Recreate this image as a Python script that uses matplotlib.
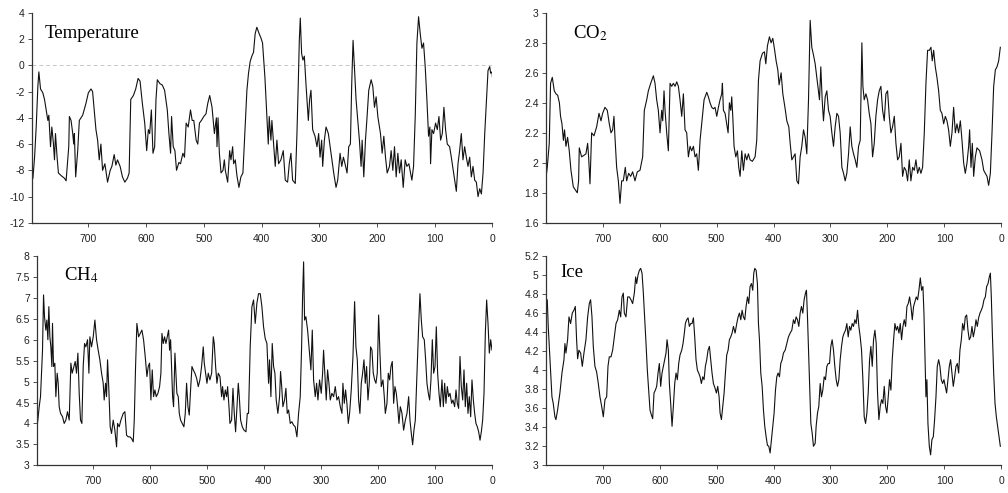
import matplotlib
matplotlib.use('Agg')
import matplotlib.pyplot as plt
from matplotlib.ticker import FuncFormatter

plt.rcParams['font.family'] = ['Liberation Sans', 'DejaVu Sans']
plt.rcParams['axes.unicode_minus'] = False
plt.rcParams['mathtext.fontset'] = 'stix'

# ages in kyr before present
temp_age = [796.0, 793.1, 790.3, 787.4, 785.7, 782.8, 778.8, 775.9, 773.0, 770.1, 768.4, 765.5, 763.2,
            760.4, 758.6, 756.9, 754.1, 751.8, 747.2, 741.4, 738.5, 733.9, 732.8, 729.9, 727.0, 725.3,
            724.2, 721.9, 718.4, 715.6, 709.8, 704.1, 700.0, 695.4, 692.6, 686.8, 683.9, 681.1, 678.2,
            675.3, 671.3, 666.7, 662.1, 659.2, 655.2, 652.3, 649.5, 644.9, 640.9, 636.8, 632.2, 629.3,
            626.5, 621.9, 617.9, 613.8, 610.4, 606.4, 602.3, 598.9, 596.0, 593.7, 590.8, 588.0, 585.1,
            582.8, 580.5, 575.9, 571.9, 567.9, 563.2, 560.4, 557.5, 555.8, 552.9, 550.0, 547.2, 543.1,
            540.3, 536.2, 533.4, 530.5, 527.0, 523.0, 520.1, 517.3, 513.2, 510.4, 507.5, 504.1, 500.0,
            496.2, 493.1, 489.7, 485.7, 481.6, 478.2, 477.1, 475.3, 473.0, 470.1, 466.7, 464.4, 462.7,
            458.6, 455.2, 452.9, 450.0, 448.3, 445.4, 442.6, 439.1, 435.7, 432.2, 429.4, 425.3, 422.5,
            419.6, 416.7, 413.8, 411.0, 408.1, 404.0, 401.1, 398.2, 394.1, 390.7, 388.3, 386.6, 383.7,
            382.0, 379.1, 376.2, 373.3, 370.4, 366.4, 362.3, 358.8, 354.8, 351.9, 349.0, 346.1, 341.5,
            338.6, 336.3, 334.5, 332.8, 330.5, 328.2, 325.8, 323.0, 318.9, 316.6, 314.3, 311.4, 307.3,
            303.9, 301.0, 298.6, 295.8, 294.0, 291.1, 288.2, 284.2, 279.6, 274.9, 270.9, 268.0, 263.9,
            261.0, 258.1, 255.3, 251.8, 248.9, 246.0, 243.7, 241.4, 239.1, 236.2, 233.3, 230.4, 227.5,
            225.7, 222.8, 219.9, 217.1, 214.2, 210.1, 207.2, 204.3, 201.4, 198.5, 193.9, 191.0, 188.1,
            185.2, 182.3, 178.3, 175.4, 172.5, 169.6, 166.7, 163.8, 160.9, 158.0, 154.5, 151.1, 148.2,
            144.7, 141.8, 139.5, 136.6, 133.7, 130.8, 127.9, 125.0, 122.1, 119.3, 116.4, 113.5, 110.6,
            108.3, 107.1, 104.8, 101.9, 98.4, 95.5, 92.6, 89.7, 86.8, 84.0, 81.1, 78.2, 74.1, 71.2,
            67.2, 62.5, 59.6, 56.8, 53.9, 51.0, 48.1, 45.2, 42.3, 39.4, 36.5, 33.6, 30.7, 27.8, 24.9,
            22.0, 19.1, 16.2, 13.3, 10.5, 7.6, 4.7, 3.0, 0.6, 0.0]
temp_val = [-8.6, -7.0, -4.7, -1.6, -0.5, -1.8, -2.1, -2.6, -3.4, -4.2, -3.8, -6.2, -4.7,
            -6.0, -7.2, -5.2, -7.0, -8.2, -8.4, -8.6, -8.8, -6.2, -3.9, -4.2, -5.2, -6.0,
            -5.2, -8.5, -6.5, -4.2, -3.8, -2.9, -2.1, -1.8, -2.0, -4.9, -5.7, -7.2, -6.0,
            -8.0, -7.5, -8.9, -8.0, -7.7, -6.8, -7.6, -7.2, -7.7, -8.5, -8.9, -8.6, -8.2,
            -2.6, -2.3, -1.8, -1.0, -1.2, -2.9, -4.4, -6.5, -4.9, -5.2, -3.4, -6.7, -6.2,
            -2.6, -1.1, -1.4, -1.5, -1.9, -3.4, -5.2, -6.7, -3.9, -6.2, -6.5, -8.0, -7.4,
            -7.5, -6.7, -7.0, -4.4, -4.7, -3.4, -4.2, -4.2, -5.7, -6.0, -4.4, -4.2, -3.9,
            -3.7, -2.9, -2.3, -3.2, -5.2, -4.0, -6.2, -4.0, -6.7, -8.2, -8.0, -7.2, -8.0,
            -8.9, -6.5, -7.2, -6.2, -7.5, -7.2, -8.4, -9.3, -8.5, -8.2, -5.7, -1.9, -0.6,
            0.3, 0.7, 1.0, 2.4, 2.9, 2.4, 2.1, 1.7, -0.9, -3.9, -6.0, -3.9, -5.7,
            -4.2, -6.0, -7.7, -5.7, -7.5, -7.2, -6.5, -8.75, -8.9, -7.5, -6.7, -8.75, -9.0,
            -5.2, -1.4, 1.9, 3.6, 0.9, 0.4, 0.7, -1.4, -4.2, -2.6, -1.9, -4.9, -5.4,
            -6.2, -5.2, -7.0, -5.7, -7.7, -5.7, -4.7, -5.2, -6.7, -8.2, -9.3, -8.75, -6.7,
            -7.7, -7.0, -7.5, -8.2, -6.2, -6.0, -1.4, 1.9, -0.1, -2.6, -4.2, -5.7, -7.7,
            -5.7, -8.5, -5.7, -3.9, -1.9, -1.1, -1.6, -3.2, -2.4, -3.9, -5.2, -6.7, -5.4,
            -7.0, -8.2, -7.7, -6.5, -8.0, -6.2, -8.5, -6.7, -8.2, -7.2, -9.3, -7.2, -7.7,
            -7.5, -8.2, -8.75, -7.7, -3.9, 1.7, 3.7, 2.4, 1.3, 1.7, -0.1, -2.6, -5.4,
            -4.7, -7.5, -4.9, -5.2, -4.4, -4.9, -3.9, -5.7, -5.2, -3.2, -4.9, -6.0, -6.2, -7.0,
            -8.2, -9.6, -7.5, -6.5, -5.2, -7.2, -6.2, -7.0, -7.7, -7.0, -8.5, -7.7, -8.75, -8.9, -10.0,
            -9.4, -9.8, -8.2, -5.2, -2.9, -0.4, -0.1, -0.6, -0.5, -0.9]

co2_age = [800.2, 797.3, 793.8, 791.5, 788.5, 785.0, 782.0, 779.0, 776.0, 774.0, 771.5, 769.0, 767.0,
           764.5, 761.6, 758.7, 755.7, 751.6, 748.1, 744.6, 742.3, 741.1, 737.0, 732.9, 729.4, 726.4,
           724.7, 722.3, 719.4, 715.3, 710.6, 706.5, 703.0, 700.1, 696.0, 691.9, 688.4, 685.4, 682.5,
           680.2, 678.4, 675.5, 672.5, 669.6, 666.7, 663.8, 660.3, 657.9, 654.4, 650.9, 647.4, 643.3,
           639.2, 634.5, 629.8, 626.9, 622.7, 619.8, 615.7, 611.0, 608.1, 605.2, 602.3, 599.3, 596.4,
           594.6, 592.3, 590.5, 587.6, 584.7, 581.7, 578.8, 575.9, 572.9, 570.0, 567.1, 564.2, 561.2,
           558.3, 555.4, 552.5, 549.5, 546.6, 543.7, 540.7, 537.8, 534.9, 532.0, 529.0, 526.1, 522.0,
           517.3, 514.4, 511.5, 508.5, 505.6, 502.7, 499.7, 496.8, 493.9, 491.0, 489.8, 488.0, 485.1,
           482.2, 479.8, 477.5, 475.1, 473.4, 471.6, 469.3, 466.3, 463.4, 461.1, 458.7, 455.8, 452.9,
           449.9, 447.0, 444.1, 441.2, 437.1, 432.4, 429.5, 426.5, 423.6, 419.5, 416.0, 413.6, 410.7,
           407.2, 404.3, 401.3, 398.4, 395.5, 392.5, 390.2, 386.7, 383.7, 379.6, 376.7, 373.2, 370.8,
           367.9, 365.0, 362.1, 359.1, 356.2, 353.3, 350.4, 347.4, 344.5, 341.6, 338.6, 335.7, 332.8,
           329.9, 326.9, 324.0, 321.1, 319.3, 317.0, 314.6, 312.3, 309.3, 306.4, 303.5, 300.6, 297.6,
           294.7, 291.8, 288.8, 285.9, 283.0, 280.0, 277.1, 274.2, 271.3, 268.3, 265.4, 262.5, 259.5,
           256.6, 253.7, 250.7, 247.8, 244.9, 243.1, 240.8, 237.8, 234.9, 232.0, 229.0, 226.1, 223.2,
           220.3, 217.3, 214.4, 211.5, 208.5, 205.6, 202.7, 199.8, 196.8, 193.9, 191.0, 188.0, 185.1,
           182.2, 179.3, 176.3, 173.4, 170.5, 167.5, 164.6, 161.7, 158.8, 155.8, 152.9, 150.0, 147.0,
           144.1, 141.2, 138.3, 135.3, 132.4, 129.5, 126.5, 123.6, 121.3, 118.9, 116.0, 113.1, 110.1,
           107.2, 104.3, 101.3, 98.4, 95.5, 92.6, 89.6, 86.7, 83.8, 80.8, 77.9, 75.0, 72.0, 69.1,
           66.2, 63.3, 60.3, 57.4, 55.7, 53.3, 51.0, 48.6, 45.7, 42.8, 38.1, 34.0, 31.0, 28.1, 25.2,
           22.3, 19.3, 16.4, 13.5, 10.5, 7.6, 4.7, 1.8]
co2_val = [1.88, 1.97, 2.13, 2.53, 2.57, 2.48, 2.46, 2.45, 2.40, 2.31, 2.26, 2.15, 2.22,
           2.11, 2.17, 2.08, 1.95, 1.84, 1.82, 1.80, 1.88, 2.10, 2.04, 2.05, 2.06, 2.13,
           2.04, 1.86, 2.20, 2.18, 2.24, 2.33, 2.28, 2.33, 2.37, 2.35, 2.26, 2.20, 2.22,
           2.31, 2.17, 1.97, 1.88, 1.73, 1.88, 1.88, 1.97, 1.88, 1.93, 1.91, 1.94, 1.88,
           1.94, 1.95, 2.04, 2.35, 2.42, 2.48, 2.53, 2.58, 2.53, 2.42, 2.35, 2.20, 2.35,
           2.28, 2.48, 2.35, 2.20, 2.08, 2.53, 2.51, 2.53, 2.51, 2.54, 2.51, 2.42, 2.31,
           2.46, 2.22, 2.20, 2.04, 2.11, 2.08, 2.11, 2.04, 2.06, 1.95, 2.15, 2.26, 2.42,
           2.47, 2.44, 2.40, 2.37, 2.36, 2.37, 2.31, 2.37, 2.42, 2.46, 2.53, 2.35, 2.33,
           2.26, 2.20, 2.40, 2.35, 2.44, 2.31, 2.11, 2.04, 2.08, 1.97, 1.91, 2.08, 1.95,
           2.06, 2.02, 2.06, 2.02, 2.01, 2.04, 2.15, 2.55, 2.68, 2.73, 2.74, 2.66, 2.78,
           2.84, 2.80, 2.83, 2.76, 2.68, 2.62, 2.52, 2.60, 2.46, 2.36, 2.28, 2.24, 2.13,
           2.02, 2.04, 2.06, 1.88, 1.86, 2.04, 2.11, 2.22, 2.17, 2.06, 2.42, 2.95, 2.77,
           2.72, 2.66, 2.57, 2.48, 2.42, 2.64, 2.42, 2.28, 2.44, 2.48, 2.35, 2.31, 2.20,
           2.11, 2.24, 2.33, 2.31, 2.20, 1.97, 1.93, 1.88, 1.93, 2.06, 2.24, 2.11, 2.06,
           2.02, 1.97, 2.11, 2.15, 2.80, 2.51, 2.42, 2.46, 2.42, 2.33, 2.26, 2.04, 2.13,
           2.31, 2.42, 2.48, 2.51, 2.35, 2.28, 2.46, 2.48, 2.31, 2.20, 2.24, 2.31, 2.13,
           2.02, 2.04, 2.13, 1.91, 1.97, 1.95, 1.88, 2.02, 1.88, 1.97, 1.95, 2.02, 1.93,
           1.97, 1.93, 1.97, 2.20, 2.53, 2.75, 2.75, 2.77, 2.68, 2.75, 2.64, 2.57, 2.48,
           2.35, 2.33, 2.26, 2.31, 2.28, 2.22, 2.11, 2.20, 2.37, 2.20, 2.26, 2.20, 2.28, 2.15,
           2.00, 1.93, 2.00, 2.11, 2.22, 1.97, 2.13, 1.91, 2.04, 2.10, 2.08, 2.02, 1.95, 1.93, 1.91,
           1.85, 1.93, 2.20, 2.51, 2.62, 2.64, 2.68, 2.77]

ch4_age = [798.4, 796.6, 793.6, 791.3, 789.5, 787.8, 786.0, 784.3, 782.0, 780.2, 778.4, 776.7, 774.9,
           773.2, 771.4, 770.3, 768.5, 766.2, 764.4, 762.1, 760.3, 758.6, 756.2, 752.7, 749.8, 746.9,
           744.0, 741.0, 738.1, 735.8, 732.8, 730.5, 728.2, 725.8, 723.5, 721.2, 718.8, 716.5, 714.1,
           711.8, 708.9, 706.5, 704.8, 701.9, 698.9, 696.0, 693.1, 690.2, 687.3, 684.3, 681.4, 679.7,
           677.3, 675.6, 673.8, 671.5, 669.2, 666.8, 663.9, 661.0, 658.0, 656.3, 653.4, 650.4, 646.3,
           643.4, 640.5, 637.6, 634.6, 631.7, 628.8, 627.0, 624.7, 622.4, 619.4, 616.5, 613.6, 610.7,
           607.8, 604.8, 602.5, 600.2, 597.8, 595.5, 593.2, 590.8, 588.5, 585.5, 582.6, 580.3, 578.5,
           576.2, 573.9, 571.5, 569.2, 566.8, 565.1, 563.3, 561.6, 559.8, 558.1, 555.7, 554.0, 552.3,
           549.9, 548.1, 545.8, 542.9, 540.0, 537.6, 535.3, 532.9, 530.6, 528.3, 525.9, 523.6, 520.7,
           517.7, 514.8, 511.9, 509.0, 506.1, 504.3, 502.0, 499.6, 497.3, 494.4, 491.4, 488.5, 486.8,
           484.4, 482.1, 479.8, 476.8, 473.9, 472.2, 469.8, 467.5, 465.1, 463.4, 461.0, 459.3, 456.4,
           454.0, 451.7, 449.4, 447.0, 444.7, 442.9, 440.6, 437.7, 434.7, 431.2, 428.9, 426.7, 423.8,
           420.8, 417.9, 415.0, 412.1, 409.2, 406.2, 403.3, 400.4, 397.5, 394.5, 391.6, 389.9, 387.5,
           385.2, 382.8, 380.5, 378.2, 375.3, 372.3, 370.6, 368.2, 366.5, 363.6, 361.2, 358.9, 356.5,
           353.6, 350.7, 347.8, 344.9, 341.9, 339.0, 336.1, 333.7, 332.0, 330.2, 328.5, 326.2, 323.2,
           320.3, 317.4, 315.0, 312.7, 309.8, 307.4, 305.1, 302.2, 299.3, 296.9, 295.2, 292.8, 290.5,
           288.2, 285.8, 283.5, 280.6, 277.6, 274.7, 271.8, 268.9, 265.9, 263.0, 261.3, 258.9, 256.6,
           254.3, 251.9, 249.6, 246.7, 243.7, 240.8, 238.5, 236.1, 233.8, 231.5, 229.1, 226.8, 224.4,
           222.1, 219.8, 217.4, 215.1, 212.8, 210.4, 208.1, 205.7, 203.4, 201.1, 198.7, 196.4, 194.1,
           191.1, 188.8, 187.0, 184.1, 181.8, 179.4, 177.1, 174.8, 172.4, 170.1, 167.7, 165.4, 163.1,
           160.7, 157.8, 154.9, 151.9, 149.0, 146.1, 143.8, 141.4, 139.1, 136.8, 134.4, 131.5, 128.6,
           126.3, 123.9, 121.6, 118.7, 116.3, 114.0, 111.6, 109.3, 107.0, 104.6, 102.3, 99.9, 97.6,
           95.3, 92.9, 90.6, 87.7, 85.3, 83.0, 80.7, 78.3, 76.0, 73.6, 70.7, 68.4, 65.5, 63.1, 60.8,
           58.5, 56.1, 53.8, 51.4, 49.1, 46.8, 44.4, 42.1, 39.8, 37.4, 35.1, 32.7, 30.4, 28.1, 25.7,
           23.4, 21.0, 18.7, 16.4, 14.0, 11.7, 9.4, 7.0, 4.7, 2.3, 0.0]
ch4_val = [4.32, 4.00, 4.40, 4.64, 5.20, 5.75, 7.07, 6.55, 6.23, 6.47, 6.00, 6.79, 6.07,
           5.83, 5.36, 6.39, 5.36, 5.44, 4.64, 5.20, 4.96, 4.40, 4.24, 4.16, 4.00, 4.08,
           4.28, 4.08, 5.44, 5.20, 5.36, 5.48, 5.20, 5.68, 4.72, 4.08, 4.00, 5.36, 5.91,
           5.83, 6.00, 5.20, 6.07, 5.83, 6.07, 6.47, 6.00, 5.75, 5.52, 5.20, 4.96, 4.56,
           4.96, 4.64, 5.52, 4.80, 3.92, 3.76, 4.08, 3.84, 3.44, 4.00, 3.92, 4.08, 4.24,
           4.28, 3.72, 3.68, 3.68, 3.64, 3.56, 4.08, 5.36, 6.39, 6.07, 6.15, 6.23, 6.00,
           5.60, 5.12, 5.36, 5.44, 4.56, 5.28, 4.64, 4.80, 4.64, 4.72, 4.88, 5.20, 6.15,
           5.91, 6.07, 5.91, 6.07, 6.23, 5.75, 6.00, 5.36, 4.64, 4.40, 5.68, 5.20, 4.72,
           4.64, 4.24, 4.08, 4.00, 3.92, 4.24, 4.96, 4.40, 4.20, 4.80, 5.36, 5.28, 5.20,
           5.08, 4.88, 5.04, 5.36, 5.83, 5.44, 5.20, 4.96, 5.20, 5.04, 5.20, 6.07, 5.91,
           5.36, 4.96, 5.20, 5.12, 4.64, 4.88, 4.56, 4.80, 4.64, 4.88, 4.40, 4.00, 4.08,
           4.84, 4.24, 3.80, 4.40, 4.96, 4.64, 4.08, 3.92, 3.84, 3.80, 4.24, 4.24, 5.83,
           6.79, 6.95, 6.39, 6.87, 7.10, 7.10, 6.79, 6.31, 6.03, 5.91, 4.96, 5.52, 4.64,
           5.91, 5.36, 5.20, 4.56, 4.24, 4.64, 5.24, 4.80, 4.40, 4.56, 4.84, 4.24, 4.32,
           4.00, 4.04, 3.96, 3.92, 3.68, 4.24, 4.64, 5.83, 7.03, 7.86, 6.47, 6.55, 6.23,
           5.75, 5.28, 6.23, 5.04, 4.64, 4.96, 4.56, 5.04, 4.72, 5.20, 5.75, 5.12, 4.56,
           5.28, 4.96, 4.56, 4.72, 4.64, 4.88, 4.56, 4.64, 4.40, 4.24, 4.96, 4.48, 4.80,
           4.48, 4.00, 4.24, 4.80, 5.60, 6.91, 5.83, 5.52, 4.56, 4.24, 4.96, 5.20, 5.52,
           4.96, 5.36, 4.56, 4.96, 5.83, 5.75, 5.20, 5.04, 4.96, 5.20, 6.59, 5.68, 4.88,
           5.04, 4.64, 4.24, 4.48, 5.20, 5.04, 5.36, 5.48, 4.48, 4.88, 4.72, 4.40, 4.00,
           4.40, 4.24, 3.84, 4.08, 4.24, 4.64, 4.08, 3.76, 3.49, 3.84, 4.08, 5.20, 6.31,
           7.10, 6.47, 6.07, 6.00, 5.52, 4.96, 4.72, 4.56, 5.04, 6.00, 5.20, 5.36, 6.31,
           5.20, 4.72, 4.40, 5.04, 4.40, 4.96, 4.48, 4.88, 4.64, 4.72, 4.48, 4.56, 4.40, 4.80, 4.48,
           4.36, 5.60, 4.88, 4.56, 5.28, 4.40, 4.96, 4.24, 4.64, 4.16, 5.04, 4.56, 4.24, 4.00, 3.92,
           3.80, 3.60, 3.80, 4.08, 4.72, 6.15, 6.95, 6.39, 5.68, 6.00, 5.75]

ice_age = [800.2, 797.3, 795.6, 793.8, 791.5, 789.1, 786.8, 783.9, 782.1, 779.2, 775.1, 771.5, 768.0,
           766.3, 764.5, 761.6, 759.2, 756.3, 753.4, 750.5, 748.1, 745.8, 744.0, 741.7, 738.7, 735.8,
           732.9, 729.4, 726.4, 723.5, 721.2, 718.8, 716.5, 713.6, 710.6, 707.7, 704.8, 701.8, 698.9,
           696.0, 693.0, 690.7, 688.4, 685.4, 682.5, 679.6, 676.6, 673.7, 670.8, 668.4, 666.1, 663.8,
           662.0, 659.1, 656.1, 653.2, 650.3, 647.4, 644.4, 642.1, 640.3, 638.0, 635.6, 633.3, 630.9,
           628.6, 626.3, 623.9, 621.6, 619.2, 616.9, 614.5, 612.2, 609.9, 607.5, 605.2, 602.8, 600.5,
           598.2, 595.8, 593.5, 591.1, 588.8, 587.0, 584.7, 582.9, 580.6, 578.2, 575.9, 573.5, 571.2,
           568.9, 566.5, 564.2, 561.2, 558.9, 556.6, 554.8, 552.5, 550.1, 547.8, 545.4, 543.1, 540.7,
           538.4, 536.1, 533.7, 531.4, 529.0, 526.7, 524.3, 522.0, 519.7, 517.3, 515.0, 512.6, 510.3,
           508.0, 505.6, 502.7, 500.3, 498.0, 495.6, 493.9, 491.5, 489.2, 486.8, 484.5, 482.2, 479.8,
           477.5, 475.1, 472.8, 470.4, 467.5, 464.6, 462.2, 459.9, 457.5, 455.2, 452.9, 450.5, 448.2,
           445.8, 443.5, 441.2, 438.8, 436.5, 434.7, 432.9, 430.6, 428.3, 426.5, 424.7, 422.4, 420.0,
           417.7, 415.4, 413.0, 410.7, 408.3, 406.0, 403.7, 401.3, 399.0, 396.6, 394.3, 392.0, 389.6,
           387.3, 384.9, 382.6, 379.6, 376.7, 373.8, 370.8, 367.9, 365.0, 362.7, 360.3, 358.0, 355.6,
           353.3, 351.0, 348.6, 346.3, 343.9, 342.2, 340.4, 338.6, 336.3, 334.5, 332.2, 329.9, 326.9,
           325.2, 322.8, 320.5, 318.1, 315.8, 313.5, 311.1, 308.8, 306.4, 304.1, 301.7, 299.4, 297.1,
           294.7, 292.4, 290.0, 287.7, 285.3, 283.0, 280.6, 278.3, 276.0, 273.6, 271.3, 268.9, 266.6,
           264.3, 261.9, 259.6, 257.2, 254.9, 252.5, 250.2, 247.8, 245.5, 243.1, 240.8, 238.4, 236.1,
           233.8, 231.4, 229.1, 226.7, 224.4, 222.0, 219.7, 217.4, 215.0, 212.7, 210.3, 208.0, 205.6,
           203.3, 201.0, 198.6, 196.3, 193.9, 191.6, 189.2, 186.9, 184.5, 182.2, 179.8, 177.5, 175.2,
           172.8, 170.5, 168.1, 165.8, 163.4, 161.1, 158.7, 156.4, 154.1, 151.7, 149.4, 147.0, 144.7,
           142.3, 140.0, 137.7, 135.9, 134.1, 132.4, 130.7, 128.9, 126.5, 124.2, 121.9, 119.5, 117.2,
           114.8, 112.5, 110.1, 107.8, 105.5, 103.1, 100.8, 98.4, 96.1, 93.7, 91.4, 89.1, 86.7, 84.4,
           82.0, 79.7, 77.3, 75.0, 72.7, 70.3, 68.0, 65.6, 63.3, 60.9, 58.6, 56.3, 53.9, 51.6, 49.2,
           46.9, 44.5, 42.2, 39.9, 37.5, 35.2, 32.8, 30.5, 28.1, 25.8, 23.4, 21.1, 19.3, 17.6, 15.8,
           13.5, 11.1, 8.8, 6.5, 4.1, 1.8]
ice_val = [4.67, 4.74, 4.46, 4.25, 3.97, 3.72, 3.65, 3.51, 3.48, 3.58, 3.76, 3.97, 4.11,
           4.28, 4.18, 4.32, 4.56, 4.49, 4.60, 4.63, 4.67, 4.32, 4.12, 4.21, 4.18, 4.04,
           4.18, 4.32, 4.56, 4.70, 4.74, 4.56, 4.25, 4.04, 3.98, 3.86, 3.72, 3.62, 3.51,
           3.69, 3.72, 4.04, 4.14, 4.14, 4.21, 4.35, 4.49, 4.53, 4.63, 4.56, 4.77, 4.81,
           4.60, 4.56, 4.77, 4.77, 4.74, 4.70, 4.81, 4.98, 4.91, 5.00, 5.05, 5.07, 5.02,
           4.81, 4.56, 4.28, 4.00, 3.79, 3.58, 3.53, 3.49, 3.76, 3.79, 3.83, 3.97, 4.07,
           3.83, 3.97, 4.04, 4.11, 4.18, 4.32, 4.21, 3.86, 3.65, 3.41, 3.62, 3.86, 3.97,
           3.90, 4.07, 4.16, 4.21, 4.28, 4.39, 4.49, 4.53, 4.55, 4.46, 4.49, 4.49, 4.55,
           4.35, 4.11, 4.00, 3.97, 3.93, 3.86, 3.93, 3.90, 4.04, 4.11, 4.21, 4.25, 4.11,
           3.97, 3.86, 3.81, 3.76, 3.83, 3.72, 3.55, 3.48, 3.62, 3.76, 3.97, 4.16, 4.21,
           4.32, 4.35, 4.39, 4.46, 4.39, 4.49, 4.56, 4.60, 4.53, 4.63, 4.56, 4.53, 4.67,
           4.77, 4.70, 4.88, 4.91, 4.84, 5.02, 5.07, 5.05, 4.91, 4.49, 4.32, 3.97, 3.83,
           3.58, 3.41, 3.30, 3.21, 3.20, 3.13, 3.27, 3.41, 3.55, 3.79, 3.93, 3.97, 3.93,
           4.07, 4.11, 4.18, 4.21, 4.28, 4.35, 4.39, 4.42, 4.53, 4.49, 4.56, 4.53, 4.46,
           4.60, 4.67, 4.60, 4.74, 4.81, 4.84, 4.56, 4.21, 3.79, 3.44, 3.34, 3.20, 3.23,
           3.41, 3.55, 3.62, 3.86, 3.72, 3.79, 3.93, 3.90, 4.04, 4.07, 4.07, 4.25, 4.32,
           4.21, 4.04, 3.90, 3.83, 3.90, 4.11, 4.25, 4.35, 4.39, 4.42, 4.49, 4.35, 4.46,
           4.42, 4.49, 4.46, 4.53, 4.49, 4.63, 4.46, 4.35, 4.21, 3.90, 3.51, 3.44, 3.55,
           3.76, 4.11, 4.25, 4.04, 4.32, 4.42, 4.28, 3.76, 3.48, 3.62, 3.69, 3.65, 3.83,
           3.62, 3.55, 3.72, 3.90, 3.79, 4.11, 4.32, 4.49, 4.42, 4.46, 4.39, 4.49, 4.32,
           4.46, 4.53, 4.46, 4.67, 4.70, 4.77, 4.67, 4.53, 4.67, 4.72, 4.77, 4.74, 4.84,
           4.97, 4.84, 4.88, 4.60, 4.14, 3.72, 3.90, 3.44, 3.20, 3.11, 3.27, 3.30, 3.48,
           3.72, 4.04, 4.11, 4.04, 3.90, 3.86, 3.90, 3.83, 3.76, 3.90, 4.04, 4.11, 3.97, 3.83,
           3.93, 4.04, 4.07, 3.97, 4.21, 4.32, 4.49, 4.42, 4.56, 4.58, 4.42, 4.32, 4.35, 4.46, 4.35,
           4.42, 4.53, 4.46, 4.55, 4.60, 4.63, 4.67, 4.74, 4.77, 4.88, 4.91, 4.98, 5.02, 4.77, 4.39,
           3.97, 3.65, 3.51, 3.41, 3.30, 3.20]

x_ticks = [700, 600, 500, 400, 300, 200, 100, 0]

fig = plt.figure(figsize=(10.08, 4.93), dpi=100)


def fmt(v, pos):
    return '%g' % round(v, 2)


def panel(rect, ages, vals, left, ylo, yhi, ystep, label, lx, ly):
    ax = fig.add_axes(rect)
    ax.plot(ages, vals, color='#111111', lw=0.8)
    ax.set_xlim(left, 0)
    ax.set_ylim(ylo, yhi)
    ax.set_xticks(x_ticks)
    n = int(round((yhi - ylo) / ystep))
    ax.set_yticks([ylo + i * ystep for i in range(n + 1)])
    ax.yaxis.set_major_formatter(FuncFormatter(fmt))
    for side in ('top', 'right'):
        ax.spines[side].set_visible(False)
    for side in ('left', 'bottom'):
        ax.spines[side].set_color('#333333')
        ax.spines[side].set_linewidth(0.9)
    ax.tick_params(direction='out', length=3, width=0.6, color='#333333',
                   labelsize=7.5, labelcolor='#222222', pad=2)
    ax.tick_params(axis='x', pad=5)
    ax.text(lx, ly, label, transform=ax.transAxes, ha='left', va='center',
            fontsize=13.5, family=['Liberation Serif', 'DejaVu Serif'],
            bbox=dict(facecolor='white', edgecolor='none', pad=1))
    return ax


ax_t = panel([0.0315, 0.548, 0.457, 0.426], temp_age, temp_val, 798, -12, 4, 2,
             'Temperature', 0.029, 0.903)
ax_t.axhline(0, color='#c8c8c8', lw=0.7, ls=(0, (4, 3)), zorder=0)

panel([0.5414, 0.548, 0.452, 0.426], co2_age, co2_val, 800, 1.6, 3.0, 0.2,
      r'CO$_2$', 0.06, 0.903)
panel([0.0364, 0.0562, 0.4517, 0.4245], ch4_age, ch4_val, 798, 3, 8, 0.5,
      r'CH$_4$', 0.06, 0.909)
panel([0.5414, 0.0562, 0.452, 0.4245], ice_age, ice_val, 800, 3, 5.2, 0.2,
      'Ice', 0.031, 0.923)

fig.savefig('out.png', dpi=100)
